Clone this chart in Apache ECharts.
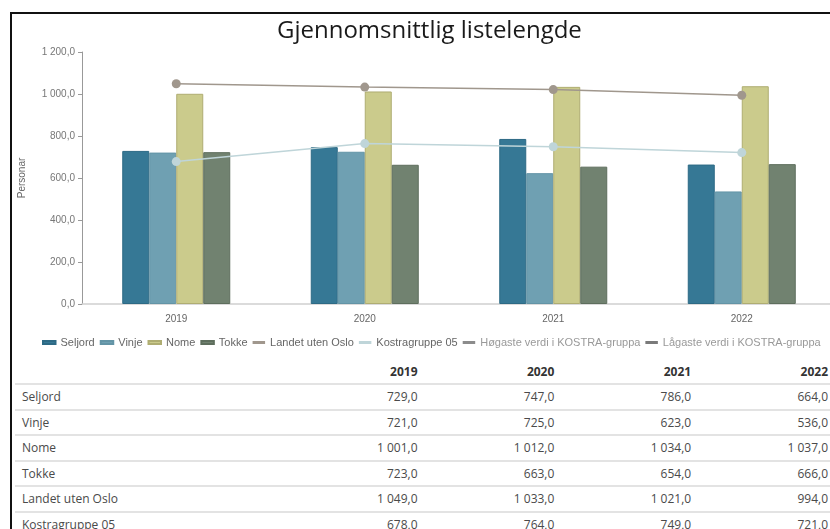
<!DOCTYPE html>
<html>
<head>
<meta charset="utf-8">
<script src="https://cdn.jsdelivr.net/npm/echarts@6/dist/echarts.min.js"></script>
<style>
  html, body { margin: 0; padding: 0; background: #fff; overflow: hidden; width: 830px; height: 529px; }
  #frame { position: absolute; left: 10px; top: 12px; width: 900px; height: 600px;
           border-left: 2px solid #111; border-top: 2px solid #111; }
  #main { position: absolute; left: 0; top: 0; width: 840px; height: 360px; }
  #tbl { position: absolute; left: 15px; top: 360px; border-collapse: collapse;
         font-family: "Open Sans", sans-serif; font-size: 12px; color: #4a4a4a; }
  #tbl td, #tbl th { height: 23.5px; padding: 0 2px 0 7px; border-bottom: 2px solid #e3e3e3; }
  #tbl th { font-weight: bold; color: #333; text-align: right; height: 23px; }
  #tbl td.num { text-align: right; width: 128px; }
  #tbl td.lab { width: 259px; text-align: left; }
</style>
</head>
<body>
<div id="frame"></div>
<div id="main"></div>
<table id="tbl"></table>
<script>
// data
var years = ['2019', '2020', '2021', '2022'];
var seljord = [729, 747, 786, 664];
var vinje = [721, 725, 623, 536];
var nome = [1001, 1012, 1034, 1037];
var tokke = [723, 663, 654, 666];
var landet = [1049, 1033, 1021, 994];
var kostra = [678, 764, 749, 721];
var hogaste = [];
var lagaste = [];

function fmt(v) {
  var s = v.toFixed(1).split('.');
  return s[0].replace(/\B(?=(\d{3})+(?!\d))/g, ' ') + ',' + s[1];
}

var myChart = echarts.init(document.getElementById('main'));

function bar(name, data, color, border) {
  return {
    name: name, type: 'bar', data: data, barWidth: 27, barGap: '0%',
    itemStyle: { color: color, borderColor: border, borderWidth: 1 }
  };
}
function line(name, data, color) {
  return {
    name: name, type: 'line', data: data, symbol: 'circle', symbolSize: 9,
    lineStyle: { color: color, width: 1.5 }, itemStyle: { color: color }, z: 5
  };
}

var option = {
  animation: false,
  title: {
    text: 'Gjennomsnittlig listelengde', left: 272, top: 14,
    textStyle: { fontFamily: 'Open Sans', fontSize: 24, fontWeight: 'normal', color: '#1a1a1a' }
  },
  legend: {
    left: 37, top: 332, itemWidth: 12.5, itemHeight: 3, itemGap: 5, icon: 'rect',
    textStyle: { fontFamily: 'Liberation Sans', fontSize: 11, color: '#666' },
    data: ['Seljord', 'Vinje', 'Nome', 'Tokke', 'Landet uten Oslo', 'Kostragruppe 05',
      { name: 'Høgaste verdi i KOSTRA-gruppa', textStyle: { color: '#999' } },
      { name: 'Lågaste verdi i KOSTRA-gruppa', textStyle: { color: '#999' } }]
  },
  grid: { left: 82, right: 4, top: 52, bottom: 56 },
  xAxis: {
    type: 'category', data: years,
    axisLine: { lineStyle: { color: '#d0d0d0', width: 1.5 } },
    axisTick: { alignWithLabel: false, length: 4, lineStyle: { color: '#ccc' } },
    axisLabel: { fontFamily: 'Liberation Sans', fontSize: 10, color: '#666', margin: 10 }
  },
  yAxis: {
    type: 'value', min: 0, max: 1200, interval: 200,
    name: 'Personar', nameLocation: 'middle', nameGap: 55, nameRotate: 90,
    nameTextStyle: { fontFamily: 'Liberation Sans', fontSize: 10, color: '#666' },
    axisLine: { show: true, lineStyle: { color: '#999' } },
    axisTick: { show: true, length: 4, lineStyle: { color: '#999' } },
    splitLine: { show: false },
    axisLabel: { fontFamily: 'Liberation Sans', fontSize: 10, color: '#777', margin: 7,
      formatter: function (v) { return fmt(v); } }
  },
  series: [
    bar('Seljord', seljord, '#367895', '#2d6a85'),
    bar('Vinje', vinje, '#6fa0b2', '#6394a6'),
    bar('Nome', nome, '#cbcb8c', '#afad72'),
    bar('Tokke', tokke, '#718270', '#5e6e5d'),
    line('Landet uten Oslo', landet, '#a0978d'),
    line('Kostragruppe 05', kostra, '#bfd5d9'),
    line('Høgaste verdi i KOSTRA-gruppa', hogaste, '#8c8c8c'),
    line('Lågaste verdi i KOSTRA-gruppa', lagaste, '#7a7a7a')
  ]
};

option && myChart.setOption(option);

// table under the chart
var rows = [
  ['Seljord', seljord], ['Vinje', vinje], ['Nome', nome], ['Tokke', tokke],
  ['Landet uten Oslo', landet], ['Kostragruppe 05', kostra]
];
var html = '<tr><th></th>';
years.forEach(function (y) { html += '<th>' + y + '</th>'; });
html += '</tr>';
rows.forEach(function (r) {
  html += '<tr><td class="lab">' + r[0] + '</td>';
  r[1].forEach(function (v) { html += '<td class="num">' + fmt(v) + '</td>'; });
  html += '</tr>';
});
document.getElementById('tbl').innerHTML = html;
</script>
</body>
</html>
